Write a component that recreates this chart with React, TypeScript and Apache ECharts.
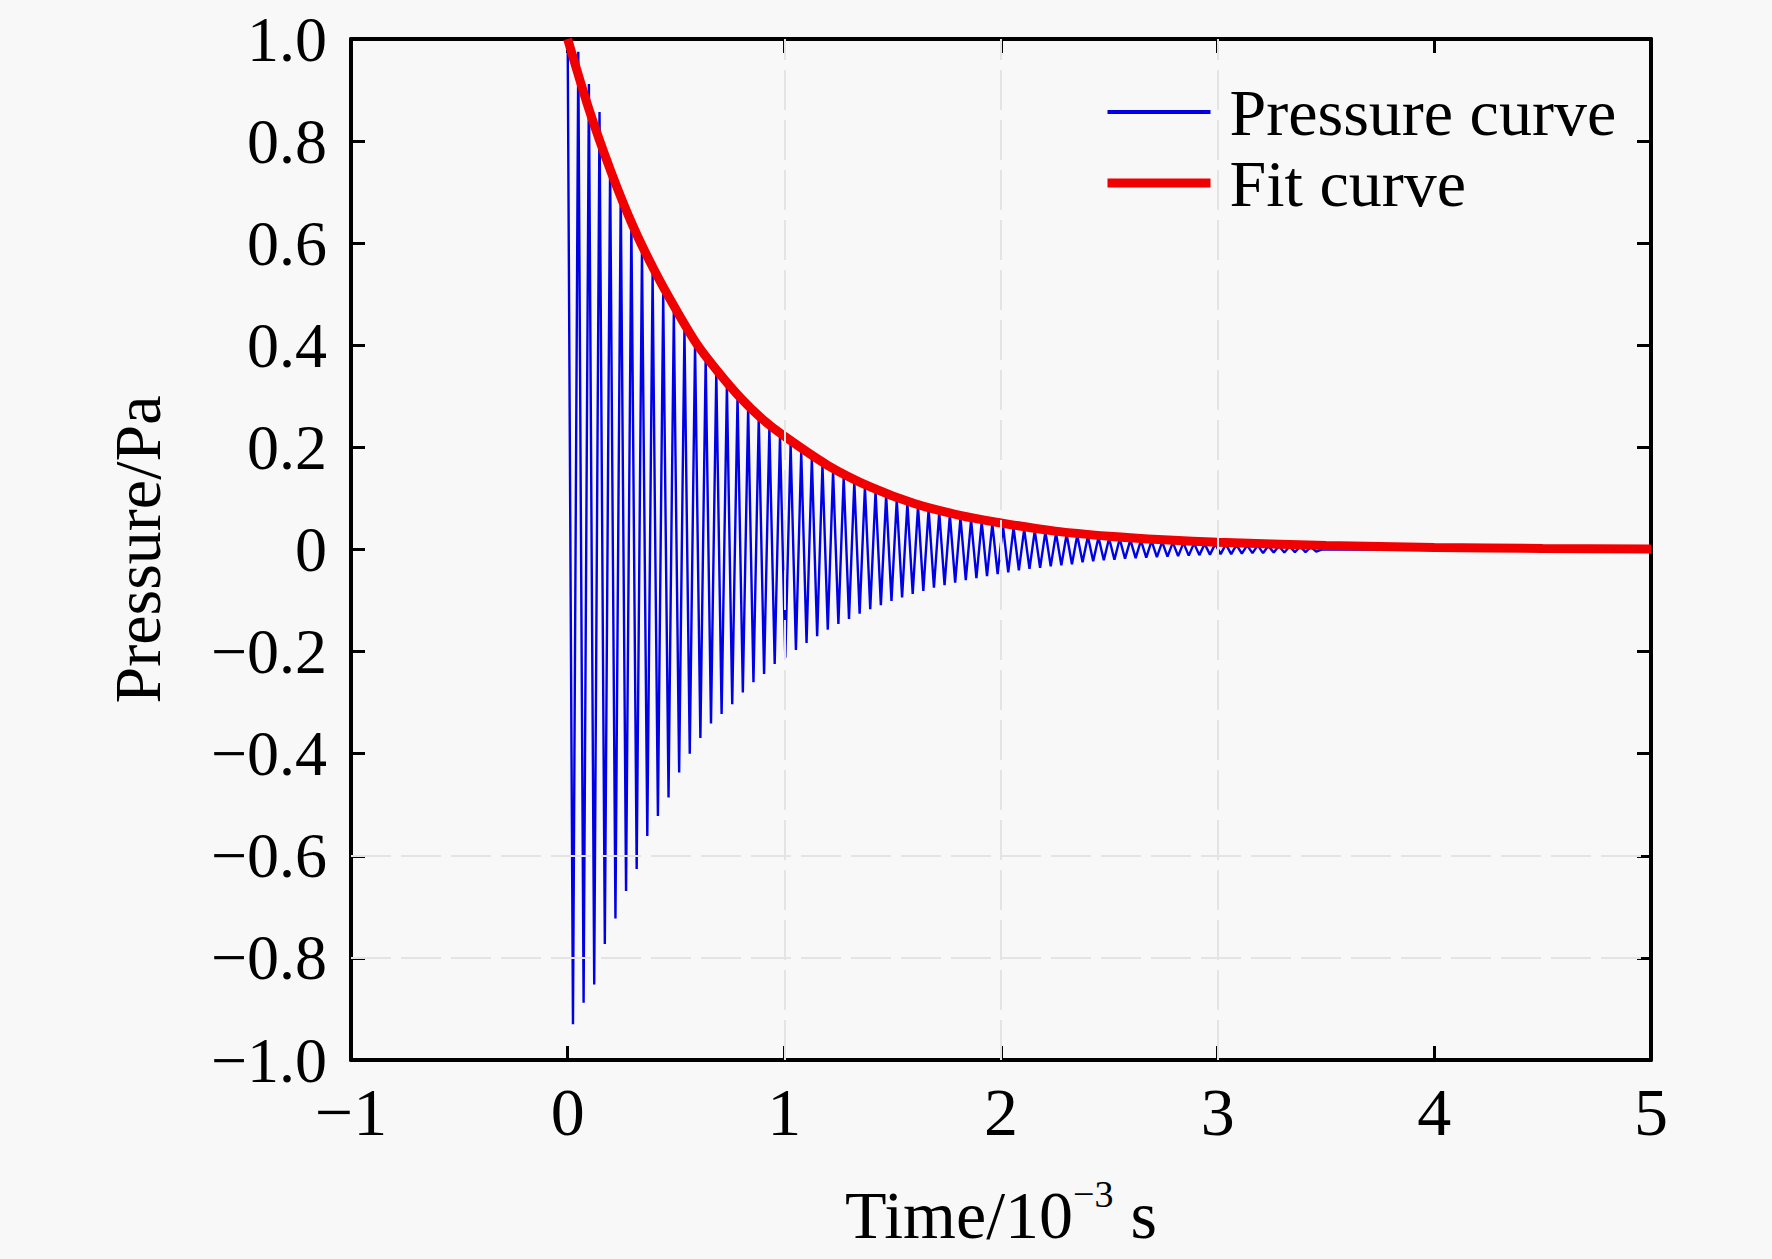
import React, { useEffect, useRef } from "react";
import * as echarts from "echarts";

// ---- data (time in 10^-3 s, pressure in Pa) ----
// times of the successive upper peaks of the pressure oscillation
const peakTimes = [0, 0.049, 0.098, 0.147, 0.196, 0.245, 0.294, 0.343, 0.392, 0.441, 0.49, 0.539, 0.588, 0.637, 0.686, 0.735, 0.784, 0.833, 0.882, 0.931, 0.98, 1.029, 1.078, 1.127, 1.176, 1.225, 1.274, 1.323, 1.372, 1.421, 1.47, 1.519, 1.568, 1.617, 1.666, 1.715, 1.764, 1.813, 1.862, 1.911, 1.96, 2.009, 2.058, 2.107, 2.156, 2.205, 2.254, 2.303, 2.352, 2.401, 2.45, 2.499, 2.548, 2.597, 2.646, 2.695, 2.744, 2.793, 2.842, 2.891, 2.94, 2.989, 3.038, 3.087, 3.136, 3.185, 3.234, 3.283, 3.332, 3.381, 3.43];
const peakValues = [1.0, 0.975, 0.912, 0.857, 0.757, 0.704, 0.645, 0.585, 0.541, 0.502, 0.466, 0.433, 0.402, 0.373, 0.347, 0.322, 0.299, 0.277, 0.258, 0.239, 0.222, 0.206, 0.191, 0.178, 0.165, 0.153, 0.142, 0.132, 0.123, 0.114, 0.106, 0.098, 0.091, 0.085, 0.079, 0.073, 0.068, 0.063, 0.058, 0.054, 0.05, 0.047, 0.043, 0.04, 0.037, 0.035, 0.032, 0.03, 0.028, 0.026, 0.024, 0.022, 0.021, 0.019, 0.018, 0.017, 0.015, 0.014, 0.013, 0.012, 0.011, 0.011, 0.01, 0.009, 0.008, 0.008, 0.007, 0.007, 0.006, 0.006, 0.005];
// times of the successive lower troughs
const troughTimes = [0.0245, 0.0735, 0.1225, 0.1715, 0.2205, 0.2695, 0.3185, 0.3675, 0.4165, 0.4655, 0.5145, 0.5635, 0.6125, 0.6615, 0.7105, 0.7595, 0.8085, 0.8575, 0.9065, 0.9555, 1.0045, 1.0535, 1.1025, 1.1515, 1.2005, 1.2495, 1.2985, 1.3475, 1.3965, 1.4455, 1.4945, 1.5435, 1.5925, 1.6415, 1.6905, 1.7395, 1.7885, 1.8375, 1.8865, 1.9355, 1.9845, 2.0335, 2.0825, 2.1315, 2.1805, 2.2295, 2.2785, 2.3275, 2.3765, 2.4255, 2.4745, 2.5235, 2.5725, 2.6215, 2.6705, 2.7195, 2.7685, 2.8175, 2.8665, 2.9155, 2.9645, 3.0135, 3.0625, 3.1115, 3.1605, 3.2095, 3.2585, 3.3075, 3.3565, 3.4055, 3.4545];
const troughValues = [-0.93, -0.888, -0.852, -0.773, -0.723, -0.669, -0.626, -0.561, -0.522, -0.486, -0.437, -0.4, -0.369, -0.341, -0.322, -0.303, -0.28, -0.26, -0.244, -0.224, -0.212, -0.197, -0.183, -0.17, -0.157, -0.146, -0.136, -0.126, -0.117, -0.109, -0.101, -0.094, -0.087, -0.081, -0.075, -0.07, -0.065, -0.06, -0.056, -0.052, -0.048, -0.045, -0.041, -0.038, -0.036, -0.033, -0.031, -0.029, -0.025, -0.023, -0.021, -0.02, -0.018, -0.017, -0.016, -0.015, -0.014, -0.013, -0.012, -0.011, -0.01, -0.009, -0.009, -0.008, -0.007, -0.007, -0.006, -0.006, -0.005, -0.005, -0.004];
// settled tail of the pressure record
const tailTimes = [3.48, 5.0];
const tailValues = [0, 0];

// fitted exponential envelope
const fitTimes = [0, 0.1, 0.2, 0.3, 0.4, 0.5, 0.6, 0.7, 0.8, 0.9, 1.0, 1.2, 1.4, 1.6, 1.8, 2.0, 2.25, 2.5, 2.75, 3.0, 3.5, 4.0, 4.5, 5.0];
const fitValues = [1.0, 0.86, 0.74, 0.635, 0.547, 0.47, 0.4, 0.345, 0.296, 0.255, 0.222, 0.165, 0.122, 0.09, 0.068, 0.052, 0.036, 0.026, 0.019, 0.014, 0.008, 0.004, 0.002, 0.001];

// faint grid lines visible in the picture
const gridLinesX = [1, 2, 3];
const gridLinesY = [-0.6, -0.8];

const seriesNames = ["Pressure curve", "Fit curve"];

const FONT = "'Liberation Serif', 'Times New Roman', serif";
const BG = "#f8f8f8";

export default function App() {
  const ref = useRef<HTMLDivElement>(null);

  useEffect(() => {
    const chart = echarts.init(ref.current as HTMLDivElement, null, { renderer: "svg" });

    const pressureData: number[][] = [];
    for (let i = 0; i < peakTimes.length; i++) {
      pressureData.push([peakTimes[i], peakValues[i]]);
      pressureData.push([troughTimes[i], troughValues[i]]);
    }
    for (let i = 0; i < tailTimes.length; i++) pressureData.push([tailTimes[i], tailValues[i]]);
    const fitData = fitTimes.map((t, i) => [t, fitValues[i]]);

    const fmt = (v: number, d: number) => {
      if (Math.abs(v) < 1e-9) return "0";
      return (v < 0 ? "\u2212" : "") + Math.abs(v).toFixed(d);
    };

    const axisLine = { show: true, onZero: false, lineStyle: { color: "#000", width: 4 } };
    const axisTick = { show: true, inside: true, length: 14, lineStyle: { color: "#000", width: 3 } };

    chart.setOption({
      animation: false,
      backgroundColor: BG,
      grid: { left: 351, right: 121, top: 39, bottom: 199, containLabel: false },
      xAxis: [
        {
          type: "value",
          min: -1,
          max: 5,
          interval: 1,
          position: "bottom",
          axisLine,
          axisTick,
          splitLine: { show: false },
          axisLabel: {
            fontSize: 68,
            fontFamily: FONT,
            color: "#000",
            margin: 18,
            formatter: (v: number) => fmt(v, 0),
          },
          name: "{a|Time/10}{b|\u22123}{a| s}",
          nameLocation: "middle",
          nameGap: 115,
          nameTextStyle: {
            rich: {
              a: { fontSize: 68, fontFamily: FONT, color: "#000", lineHeight: 80 },
              b: { fontSize: 38, fontFamily: FONT, color: "#000", lineHeight: 40, verticalAlign: "top" },
            },
          },
        },
        {
          type: "value",
          min: -1,
          max: 5,
          interval: 1,
          position: "top",
          axisLine,
          axisTick,
          splitLine: { show: false },
          axisLabel: { show: false },
        },
      ],
      yAxis: [
        {
          type: "value",
          min: -1,
          max: 1,
          interval: 0.2,
          position: "left",
          axisLine,
          axisTick,
          splitLine: { show: false },
          axisLabel: {
            fontSize: 64,
            fontFamily: FONT,
            color: "#000",
            margin: 24,
            formatter: (v: number) => fmt(v, 1),
          },
          name: "Pressure/Pa",
          nameLocation: "middle",
          nameGap: 181,
          nameTextStyle: { fontSize: 66, fontFamily: FONT, color: "#000" },
        },
        {
          type: "value",
          min: -1,
          max: 1,
          interval: 0.2,
          position: "right",
          axisLine,
          axisTick,
          splitLine: { show: false },
          axisLabel: { show: false },
        },
      ],
      legend: {
        orient: "vertical",
        left: 1103,
        top: 79,
        padding: 0,
        itemWidth: 103,
        itemHeight: 14,
        itemGap: 5,
        selectedMode: false,
        itemStyle: { opacity: 0 },
        textStyle: { fontSize: 66, fontFamily: FONT, color: "#000", lineHeight: 66, padding: [0, 0, 0, 14] },
        data: [
          { name: seriesNames[0], itemStyle: { opacity: 0 }, lineStyle: { width: 4, color: "#0000e6" } },
          { name: seriesNames[1], itemStyle: { opacity: 0 }, lineStyle: { width: 9, color: "#f00000" } },
        ],
      },
      series: [
        {
          type: "line",
          data: [],
          silent: true,
          z: 1,
          markLine: {
            silent: true,
            symbol: ["none", "none"],
            label: { show: false },
            lineStyle: { color: "#e4e4e4", width: 2, type: [40, 10] },
            data: [
              ...gridLinesX.map((v) => ({ xAxis: v })),
              ...gridLinesY.map((v) => ({ yAxis: v })),
            ],
          },
        },
        {
          name: seriesNames[0],
          type: "line",
          data: pressureData,
          symbol: "none",
          showSymbol: false,
          z: 2,
          lineStyle: { color: "#0000e6", width: 2.4 },
          itemStyle: { color: "#0000e6" },
        },
        {
          name: seriesNames[1],
          type: "line",
          data: fitData,
          smooth: 0.3,
          symbol: "none",
          showSymbol: false,
          z: 3,
          lineStyle: { color: "#f00000", width: 9 },
          itemStyle: { color: "#f00000" },
        },
      ],
    });

    return () => chart.dispose();
  }, []);

  return (
    <div
      style={{ position: "fixed", left: 0, top: 0, width: 1772, height: 1259, background: BG }}
    >
      <div ref={ref} style={{ width: 1772, height: 1259 }} />
    </div>
  );
}
